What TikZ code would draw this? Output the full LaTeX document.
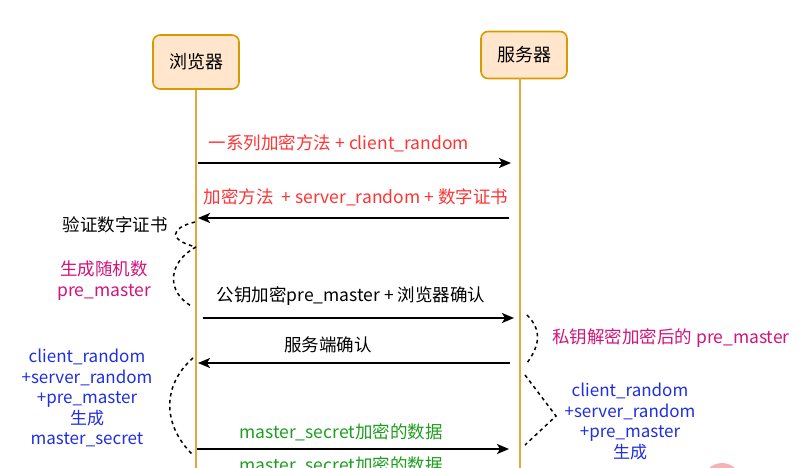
\documentclass[tikz,border=0pt]{standalone}
\usepackage{fontspec}
\setmainfont{Noto Sans CJK SC}
\usetikzlibrary{arrows.meta}
\definecolor{boxfill}{HTML}{FFE6CC}
\definecolor{boxline}{HTML}{D79B00}
\definecolor{lifeline}{HTML}{E3A73C}
\definecolor{msgred}{HTML}{FF3333}
\definecolor{msgmag}{HTML}{D1147A}
\definecolor{msgblue}{HTML}{1F2FE0}
\definecolor{msggreen}{HTML}{1E9E1E}
\definecolor{pinkmark}{HTML}{F7B3B3}
\tikzset{
  actor/.style={draw=boxline, fill=boxfill, line width=1.6pt, rounded corners=7pt,
    minimum width=86pt, font=\fontsize{18}{21}\selectfont},
  life/.style={draw=lifeline, line width=1.8pt},
  msg/.style={draw=black, line width=1.8pt, -{Stealth[length=12pt,width=10pt,inset=3pt]}},
  lbl/.style={font=\fontsize{17.5}{20}\selectfont, inner sep=0pt},
  note/.style={draw=black, line width=1.5pt, dash pattern=on 3.5pt off 3.5pt},
  multi/.style={font=\fontsize{17}{20.5}\selectfont, align=center, inner sep=0pt, text=msgblue}
}
\begin{document}
\begin{tikzpicture}[x=1pt,y=-1pt]
\useasboundingbox (0,0) rectangle (800,467);
\clip (0,0) rectangle (800,467);
% actors
\node[actor, minimum height=54pt] (br) at (196,62) {浏览器};
\node[actor, minimum height=47pt] (sv) at (524,55) {服务器};
% lifelines
\coordinate (brend) at (196,480);
\coordinate (svtop) at (520,78);
\coordinate (svend) at (520,480);
\draw[life] (br.south) -- (brend);
\draw[life] (svtop) -- (svend);
% message end points
\coordinate (a1) at (198,163); \coordinate (b1) at (511,163);
\coordinate (a2) at (198,218); \coordinate (b2) at (509,218);
\coordinate (a3) at (203,318); \coordinate (b3) at (514,318);
\coordinate (a4) at (198,363); \coordinate (b4) at (510,363);
\coordinate (a5) at (197,449); \coordinate (b5) at (509,449);
\draw[msg] (a1) -- (b1);
\draw[msg] (b2) -- (a2);
\draw[msg] (a3) -- (b3);
\draw[msg] (b4) -- (a4);
\draw[msg] (a5) -- (b5);
% message labels
\node[lbl, text=msgred] (l1) at (339,143) {一系列加密方法 + client\_random};
\node[lbl, text=msgred] (l2) at (356,197) {加密方法 \ + server\_random + 数字证书};
\node[lbl] (l3) at (351,296) {公钥加密pre\_master + 浏览器确认};
\node[lbl] (l4) at (328,345) {服务端确认};
\node[lbl, text=msggreen] (l5) at (341,432) {master\_secret加密的数据};
\node[lbl, text=msggreen] (l6) at (341,465) {master\_secret加密的数据};
% left notes
\node[lbl] (n1) at (115,225) {验证数字证书};
\node[lbl, text=msgmag, align=center, font=\fontsize{17.5}{21}\selectfont] (n2) at (104,281) {生成随机数\\pre\_master};
\coordinate (c1) at (195,222);
\coordinate (c2) at (196,247);
\coordinate (c3) at (193,307);
\draw[note] (c1) .. controls (170,228) and (168,240) .. (c2);
\draw[note] (c2) .. controls (168,262) and (165,292) .. (c3);
\coordinate (c4) at (193,358);
\coordinate (c5) at (193,455);
\draw[note] (c4) .. controls (162,385) and (162,425) .. (c5);
\node[multi] (n3) at (87,398) {client\_random\\+server\_random\\+pre\_master\\生成\\master\_secret};
% right notes
\coordinate (d1) at (527,315);
\coordinate (d2) at (527,363);
\draw[note] (d1) .. controls (542,330) and (540,345) .. (d2);
\coordinate (d3) at (525,375);
\coordinate (d4) at (556,416);
\coordinate (d5) at (525,445);
\draw[note] (d3) -- (d4) -- (d5);
\node[lbl, text=msgmag] (n4) at (671,338) {私钥解密加密后的 pre\_master};
\node[multi, anchor=north] (n5) at (630,383) {client\_random\\+server\_random\\+pre\_master\\生成};
% partial mark
\fill[pinkmark] (722,482) circle (19);
\end{tikzpicture}
\end{document}
